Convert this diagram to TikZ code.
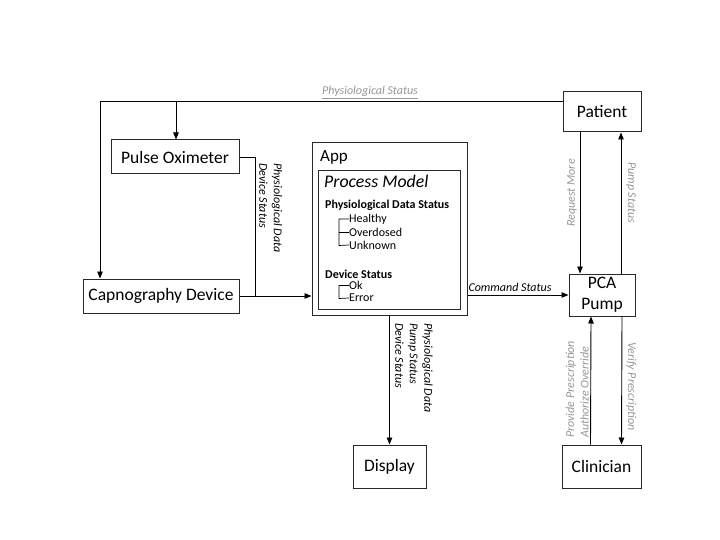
\documentclass[tikz,border=0pt]{standalone}
\usepackage{fontspec}
\setmainfont{Carlito}
\usetikzlibrary{arrows.meta}
\definecolor{lbl}{RGB}{150,150,150}
\definecolor{edge}{RGB}{40,40,40}
\begin{document}
\begin{tikzpicture}[x=1pt,y=-1pt,
  box/.style={draw=edge,line width=1pt,fill=white,inner sep=0pt,align=center,font=\fontsize{17.5}{19}\selectfont},
  conn/.style={draw=black,line width=0.9pt},
  arr/.style={conn,-{Triangle[length=7pt,width=5.5pt]}},
  clab/.style={font=\fontsize{12}{14.5}\selectfont\itshape,inner sep=1pt,align=left},
  glab/.style={clab,text=lbl},
  item/.style={font=\fontsize{12}{13}\selectfont,anchor=west,inner sep=0pt},
  head/.style={font=\fontsize{12}{13}\selectfont\bfseries,anchor=base west,inner sep=0pt}
]
\useasboundingbox (0,0) rectangle (720,540);
% boxes
\node[box,minimum width=78pt,minimum height=40pt] (patient) at (602,112) {Patient};
\node[box,minimum width=66pt,minimum height=42pt,font=\fontsize{17.5}{21}\selectfont] (pca) at (602,295) {PCA\\Pump};
\node[box,minimum width=128pt,minimum height=34pt] (pulse) at (175,157) {Pulse Oximeter};
\node[box,minimum width=156pt,minimum height=34pt] (capno) at (161,296) {Capnography Device};
\node[box,minimum width=73pt,minimum height=43pt] (display) at (389.5,466.5) {Display};
\node[box,minimum width=79pt,minimum height=43pt] (clin) at (601.5,466.5) {Clinician};
% App
\node[draw=edge,line width=1pt,minimum width=155pt,minimum height=172pt,inner sep=0pt] (app) at (389.5,229) {};
\node[draw=edge,line width=1pt,minimum width=142pt,minimum height=138pt,inner sep=0pt] (pm) at (389,240) {};
\node[font=\fontsize{17}{19}\selectfont,anchor=base west,inner sep=0pt] (apptitle) at (320,162) {App};
\node[font=\fontsize{17.8}{19}\selectfont\itshape,anchor=base west,inner sep=0pt] (pmtitle) at (324,188) {Process Model};
\node[head] (pds) at (325,209) {Physiological Data Status};
\node[item] (healthy) at (349,219) {Healthy};
\node[item] (over) at (349,232) {Overdosed};
\node[item] (unk) at (349,245) {Unknown};
\node[head] (ds) at (325,278) {Device Status};
\node[item] (ok) at (349,285.5) {Ok};
\node[item] (err) at (349,298) {Error};
\draw[line width=0.7pt] (healthy.west) -| (339,245.5) -- (unk.west);
\draw[line width=0.7pt] (339,232) -- (over.west);
\draw[line width=0.7pt] (ok.west) -| (339,298.5) -- (err.west);
% connectors
\coordinate (tl) at (100,101);
\coordinate (br) at (176,101);
\coordinate (pj) at (255,296);
\draw[conn] (patient.west |- tl) -- (tl);
\draw[arr] (tl) -- (tl |- capno.north);
\draw[arr] (br) -- (br |- pulse.north);
\draw[conn] (pulse.east) -| (pj);
\draw[arr] (capno.east) -- (capno.east -| app.west);
\draw[arr] (app.east |- pca.west) -- (pca.west);
\draw[arr] ([xshift=-22pt]patient.south) -- ([xshift=-22pt]pca.north);
\draw[arr] ([xshift=19pt]pca.north) -- ([xshift=19pt]patient.south);
\draw[arr] ([xshift=-11pt]clin.north) -- ([xshift=-11pt]pca.south);
\draw[arr] ([xshift=20pt]pca.south) -- ([xshift=20pt]clin.north);
\draw[arr] (app.south) -- (display.north);
% labels
\node[glab,anchor=base] (lphys) at (370,95) {\underline{Physiological Status}};
\node[clab,rotate=-90,anchor=south west] (lpo) at (258,162) {Physiological Data\\Device Status};
\node[clab,anchor=south] (lcmd) at (510,293) {Command Status};
\node[glab,rotate=90,anchor=south west] (lreq) at (578,228) {Request More};
\node[glab,rotate=-90,anchor=south west] (lpump) at (625,161) {Pump Status};
\node[clab,rotate=-90,anchor=south west] (ldisp) at (394,322) {Physiological Data\\Pump Status\\Device Status};
\node[glab,rotate=90,anchor=south west] (lprov) at (590,439) {Provide Prescription\\Authorize Override};
\node[glab,rotate=-90,anchor=south west] (lver) at (625,341) {Verify Prescription};
\end{tikzpicture}
\end{document}
